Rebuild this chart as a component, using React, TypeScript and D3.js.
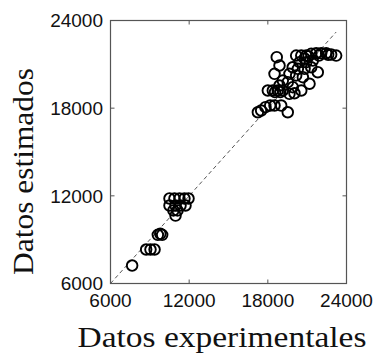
import React from "react";
import * as d3 from "d3";

const expX: number[] = [
  7650, 8720, 9050, 9360, 9610, 9800, 9940,
  10500, 10880, 11260, 11640, 11950,
  10500, 10960, 11340, 11720,
  10800, 11110, 10960,
  18680, 18890, 18510,
  20160, 20550, 20930, 21310, 21690, 22070, 22450, 22830, 23210,
  20420, 20930, 21430,
  19900, 20290, 20800, 21310, 21810,
  19650, 20160, 20670,
  19140, 19520, 18890,
  18000, 18380, 18760, 19140, 19900, 20550, 21180, 19650, 20030,
  17240, 17490, 17820, 18180, 18510, 19020, 19520,
  21100, 21900, 22600, 18550, 18950, 20800,
];
const estY: number[] = [
  7230, 8330, 8330, 8330, 9330, 9400, 9330,
  11820, 11820, 11820, 11820, 11820,
  11340, 11340, 11340, 11340,
  11000, 11000, 10650,
  21490, 20920, 20350,
  21600, 21600, 21600, 21720, 21760, 21760, 21760, 21670, 21600,
  21150, 21150, 21260,
  20800, 20690, 20690, 20800, 20460,
  20350, 20240, 20120,
  19890, 19780, 19550,
  19210, 19210, 19210, 19210, 19440, 19210, 19670, 18980, 19020,
  17720, 17840, 18070, 18180, 18180, 18180, 17720,
  21550, 21600, 21650, 19100, 19100, 21400,
];
const tickValues: number[] = [6000, 12000, 18000, 24000];
const domain: [number, number] = [6000, 24000];
const xLabel = "Datos experimentales";
const yLabel = "Datos estimados";

export default function App() {
  const W = 377, H = 354;
  const L = 110.5, R = 346.5, T = 20.5, B = 283.5;
  const x = d3.scaleLinear().domain(domain).range([L, R]);
  const y = d3.scaleLinear().domain(domain).range([B, T]);
  const lineMax = d3.max(expX) as number;
  const tickLen = 4;
  const frame = "#555";
  return (
    <svg
      width={W}
      height={H}
      style={{ position: "absolute", left: 0, top: 0, background: "#fff" }}
    >
      <rect x={0} y={0} width={W} height={H} fill="#fff" />
      <line
        x1={x(domain[0])}
        y1={y(domain[0])}
        x2={x(lineMax)}
        y2={y(lineMax)}
        stroke="#555"
        strokeWidth={1}
        strokeDasharray="4,3"
      />
      {expX.map((v, i) => (
        <circle
          key={i}
          cx={x(v)}
          cy={y(estY[i])}
          r={5.3}
          fill="none"
          stroke="#000"
          strokeWidth={1.9}
        />
      ))}
      <rect x={L} y={T} width={R - L} height={B - T} fill="none" stroke={frame} strokeWidth={1.2} />
      {tickValues.slice(1, -1).map((t) => (
        <g key={t} stroke={frame} strokeWidth={1}>
          <line x1={x(t)} x2={x(t)} y1={B} y2={B - tickLen} />
          <line x1={x(t)} x2={x(t)} y1={T} y2={T + tickLen} />
          <line x1={L} x2={L + tickLen} y1={y(t)} y2={y(t)} />
          <line x1={R} x2={R - tickLen} y1={y(t)} y2={y(t)} />
        </g>
      ))}
      <g fontFamily="'Liberation Sans', Arial, sans-serif" fontSize={19} fill="#111">
        {tickValues.map((t) => (
          <text key={"x" + t} x={x(t)} y={307} textAnchor="middle">
            {t}
          </text>
        ))}
        {tickValues.map((t) => (
          <text key={"y" + t} x={103} y={y(t)} dy="0.36em" textAnchor="end">
            {t}
          </text>
        ))}
      </g>
      <text
        x={222}
        y={347}
        textAnchor="middle"
        fontFamily="'Liberation Serif', 'Times New Roman', serif"
        fontSize={29}
        textLength={289}
        lengthAdjust="spacingAndGlyphs"
        fill="#111"
      >
        {xLabel}
      </text>
      <text
        transform={`translate(33,${171.5}) rotate(-90)`}
        textAnchor="middle"
        fontFamily="'Liberation Serif', 'Times New Roman', serif"
        fontSize={30}
        textLength={207}
        lengthAdjust="spacingAndGlyphs"
        fill="#111"
      >
        {yLabel}
      </text>
    </svg>
  );
}
